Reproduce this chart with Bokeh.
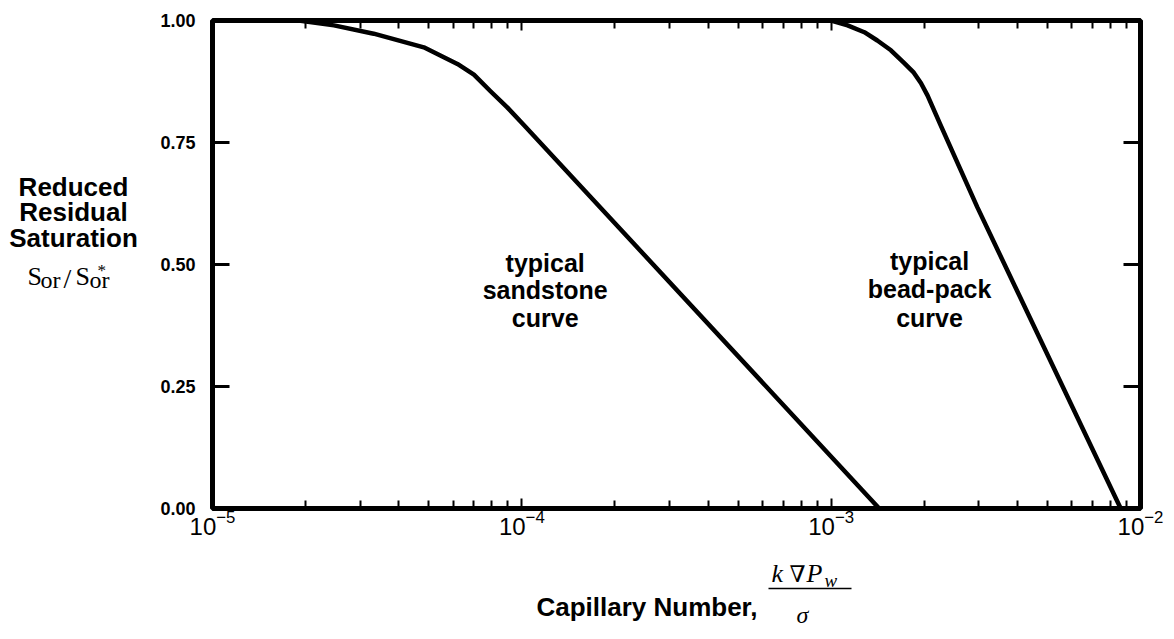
from bokeh.plotting import figure
from bokeh.layouts import row, column
from bokeh.models import (LogAxis, LinearAxis, FixedTicker, Label, Range1d,
                          NumeralTickFormatter)
from bokeh.embed import file_html
from bokeh.resources import INLINE

# ---------------- data ----------------
sand_x = [1.9e-5, 2.47e-5, 3.32e-5, 4.82e-5, 6.19e-5, 7.0e-5, 7.92e-5, 8.97e-5, 1.015e-4, 1.43e-3]
sand_y = [1.0, 0.990, 0.973, 0.945, 0.911, 0.889, 0.855, 0.822, 0.786, 0.0]
bead_x = [1.0e-3, 1.13e-3, 1.28e-3, 1.41e-3, 1.56e-3, 1.72e-3, 1.85e-3, 1.95e-3, 2.05e-3, 2.26e-3, 2.97e-3, 8.63e-3]
bead_y = [1.0, 0.990, 0.976, 0.959, 0.939, 0.913, 0.893, 0.872, 0.846, 0.785, 0.617, 0.0]

x_ticks = [1e-5, 1e-4, 1e-3, 1e-2]
y_ticks = [0.0, 0.25, 0.50, 0.75, 1.0]

sand_text = ["typical", "sandstone", "curve"]
bead_text = ["typical", "bead-pack", "curve"]
y_title_lines = ["Reduced", "Residual", "Saturation"]
x_title = "Capillary Number,"

# ---------------- layout geometry (canvas px) ----------------
W, H = 1174, 639
LEFT_W = 150          # width of the left title strip
MAIN_H = 548          # height of the main plot row
FL, FR, FT, FB = 212, 1140, 20, 508   # frame edges in canvas px

SANS = "Liberation Sans"
SERIF = "Liberation Serif"

# ---------------- main plot ----------------
p = figure(width=W - LEFT_W, height=MAIN_H, x_axis_type="log",
           x_range=Range1d(x_ticks[0], x_ticks[-1]), y_range=Range1d(y_ticks[0], y_ticks[-1]),
           output_backend="svg", toolbar_location=None,
           min_border_left=FL - LEFT_W, min_border_right=W - FR,
           min_border_top=FT, min_border_bottom=MAIN_H - FB)
p.grid.visible = False
p.outline_line_color = "black"
p.outline_line_width = 5
p.background_fill_color = "white"
p.border_fill_color = "white"

x_minor = [m * t for t in x_ticks[:-1] for m in range(2, 10)]

def style_x(ax, labels):
    ax.ticker = FixedTicker(ticks=x_ticks, minor_ticks=x_minor)
    ax.axis_line_color = None
    ax.major_tick_in = 10
    ax.major_tick_out = 0
    ax.major_tick_line_width = 2
    ax.major_tick_line_color = "black"
    ax.minor_tick_in = 8
    ax.minor_tick_out = 0
    ax.minor_tick_line_width = 2
    ax.minor_tick_line_color = "black"
    if labels:
        ax.major_label_text_font = SANS
        ax.major_label_text_font_size = "24px"
        ax.major_label_text_color = "black"
        ax.major_label_standoff = 1
    else:
        ax.major_label_text_font_size = "0px"
        ax.major_label_text_color = None
        ax.major_label_standoff = 0

def style_y(ax, labels):
    ax.ticker = FixedTicker(ticks=y_ticks, minor_ticks=[])
    ax.axis_line_color = None
    ax.major_tick_in = 17
    ax.major_tick_out = 0
    ax.major_tick_line_width = 3
    ax.major_tick_line_color = "black"
    ax.minor_tick_in = 0
    ax.minor_tick_out = 0
    if labels:
        ax.formatter = NumeralTickFormatter(format="0.00")
        ax.major_label_text_font = SANS
        ax.major_label_text_font_style = "bold"
        ax.major_label_text_font_size = "18px"
        ax.major_label_text_color = "black"
        ax.major_label_standoff = 17
    else:
        ax.major_label_text_font_size = "0px"
        ax.major_label_text_color = None
        ax.major_label_standoff = 0

style_x(p.xaxis[0], True)
style_y(p.yaxis[0], True)
top_ax = LogAxis()
style_x(top_ax, False)
p.add_layout(top_ax, "above")
right_ax = LinearAxis()
style_y(right_ax, False)
p.add_layout(right_ax, "right")

p.line(sand_x, sand_y, line_color="black", line_width=4.5, line_join="round", line_cap="round")
p.line(bead_x, bead_y, line_color="black", line_width=4.5, line_join="round", line_cap="round")

sand_txt_x = 1.19e-4
sand_txt_y = [0.504, 0.447, 0.391]
bead_txt_x = 2.08e-3
bead_txt_y = [0.508, 0.449, 0.391]
for t, yy in zip(sand_text, sand_txt_y):
    p.add_layout(Label(x=sand_txt_x, y=yy, text=t, text_align="center",
                       text_baseline="alphabetic", text_font=SANS,
                       text_font_size="25px", text_font_style="bold", text_color="black"))
for t, yy in zip(bead_text, bead_txt_y):
    p.add_layout(Label(x=bead_txt_x, y=yy, text=t, text_align="center",
                       text_baseline="alphabetic", text_font=SANS,
                       text_font_size="25px", text_font_style="bold", text_color="black"))

# ---------------- text strips (pixel-coordinate figures) ----------------
def strip(w, h):
    f = figure(width=w, height=h, x_range=Range1d(0, w), y_range=Range1d(h, 0),
               output_backend="svg", toolbar_location=None,
               x_axis_location=None, y_axis_location=None,
               min_border=0, min_border_left=0, min_border_right=0,
               min_border_top=0, min_border_bottom=0)
    f.grid.visible = False
    f.outline_line_color = None
    f.background_fill_color = "white"
    f.border_fill_color = "white"
    return f

left = strip(LEFT_W, MAIN_H)
bottom = strip(W, H - MAIN_H)

def put(fig, text, cx, cy, oy=0, align="left", size=26, style="bold", font=SANS,
        baseline="alphabetic"):
    fig.add_layout(Label(x=cx, y=cy - oy, text=text, text_align=align,
                         text_baseline=baseline, text_font=font,
                         text_font_size=f"{size}px", text_font_style=style,
                         text_color="black"))

# y title
for t, by in zip(y_title_lines, [187, 215, 244]):
    put(left, t, 73, by, align="center", size=26)
put(left, "S", 27, 288, size=26, style="normal", font=SERIF)
put(left, "or", 40, 291, size=24, style="normal", font=SERIF)
put(left, "/", 63, 290, size=28, style="normal", font=SERIF)
put(left, "S", 75, 288, size=26, style="normal", font=SERIF)
put(left, "*", 97, 281, size=17, style="normal", font=SERIF)
put(left, "or", 89, 291, size=24, style="normal", font=SERIF)

# x title
OY = MAIN_H
put(bottom, x_title, 757, 606, OY, align="right", size=26)
put(bottom, "k", 771, 573, OY, size=26, style="italic", font=SERIF)
put(bottom, "\u2207", 789, 573, OY, size=23, style="normal", font="DejaVu Serif")
put(bottom, "P", 806, 573, OY, size=26, style="italic", font=SERIF)
put(bottom, "w", 824, 580, OY, size=19, style="italic", font=SERIF)
frac_x = [768, 851]
frac_y = [588 - OY, 588 - OY]
bottom.line(frac_x, frac_y, line_color="black", line_width=1.5)
put(bottom, "\u03c3", 802, 614, OY, align="center", size=24, style="italic", font=SERIF,
    baseline="middle")

layout = column(row(left, p, spacing=0), bottom, spacing=0)
open("out.html", "w").write(file_html(layout, INLINE))
